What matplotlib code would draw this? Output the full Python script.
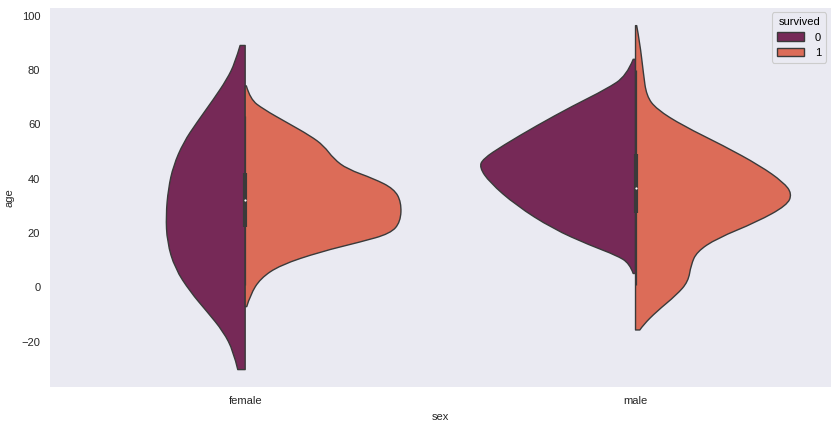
import matplotlib
matplotlib.use("Agg")
import matplotlib.pyplot as plt
from matplotlib.patches import Patch, PathPatch
from matplotlib.path import Path

plt.rcParams['font.family'] = ['Liberation Sans', 'DejaVu Sans']

# categories and hue levels
sexes = ["female", "male"]
survived = ["0", "1"]
colors = ["#762957", "#dc6c58"]

# half-violin outlines: age values and half widths (x units)
f0_age = [89.1, 82.7, 76.6, 69.3, 60.7, 53.4, 44.8, 36.3, 26.5, 16.7, 7.0, -1.6, -8.9, -16.3, -23.6, -30.3]
f0_w = [0.013, 0.026, 0.047, 0.081, 0.124, 0.158, 0.184, 0.197, 0.203, 0.200, 0.180, 0.141, 0.098, 0.056, 0.030, 0.019]

f1_age = [74.2, 69.3, 65.6, 60.7, 55.8, 52.2, 47.3, 43.6, 40.0, 36.3, 31.4, 24.1, 19.8, 16.7, 13.1, 8.2, 3.3, -2.8, -7.1]
f1_w = [0.003, 0.013, 0.047, 0.107, 0.167, 0.201, 0.227, 0.261, 0.330, 0.381, 0.400, 0.398, 0.372, 0.295, 0.193, 0.090, 0.039, 0.013, 0.004]

m0_age = [84.0, 77.9, 73.0, 66.9, 59.5, 52.2, 47.3, 44.2, 38.7, 30.2, 21.6, 15.5, 11.8, 8.8, 5.1]
m0_w = [0.006, 0.023, 0.075, 0.160, 0.254, 0.340, 0.391, 0.400, 0.374, 0.306, 0.212, 0.117, 0.049, 0.015, 0.006]

m1_age = [96.4, 90.1, 79.1, 70.5, 65.6, 59.5, 52.2, 44.8, 38.7, 34.5, 30.2, 24.1, 18.0, 13.1, 8.2, 2.1, -2.8, -8.9, -13.8, -15.7]
m1_w = [0.003, 0.011, 0.020, 0.028, 0.054, 0.122, 0.225, 0.319, 0.379, 0.401, 0.388, 0.311, 0.208, 0.157, 0.142, 0.135, 0.105, 0.054, 0.020, 0.011]

# box stats: whisker low, q1, median, q3, whisker high
female_box = [1.0, 22.2, 32.3, 42.0, 63.0]
male_box = [0.8, 27.5, 36.7, 49.1, 80.0]

edge = "#3a3a3a"

fig = plt.figure(figsize=(8.37, 4.28), dpi=100)
ax = fig.add_axes([50 / 837, 41.3 / 428, 780.7 / 837, 378.7 / 428])
ax.set_facecolor("#eaeaf2")
for s in ax.spines.values():
    s.set_visible(False)


def half(center, ages, widths, side, color):
    pts = [(center + side * w, a) for w, a in zip(widths, ages)]
    verts = [(center, ages[0]), pts[0]]
    codes = [Path.MOVETO, Path.LINETO]
    # smooth outline: read points act as quadratic control points
    for i in range(1, len(pts) - 1):
        nxt = pts[i + 1] if i < len(pts) - 2 else None
        end = pts[-1] if nxt is None else ((pts[i][0] + nxt[0]) / 2, (pts[i][1] + nxt[1]) / 2)
        verts += [pts[i], end]
        codes += [Path.CURVE3, Path.CURVE3]
    verts += [(center, ages[-1]), (center, ages[0])]
    codes += [Path.LINETO, Path.CLOSEPOLY]
    ax.add_patch(PathPatch(Path(verts, codes), facecolor=color, edgecolor=edge,
                           linewidth=1.0, joinstyle="round"))


half(0, f0_age, f0_w, -1, colors[0])
half(0, f1_age, f1_w, 1, colors[1])
half(1, m0_age, m0_w, -1, colors[0])
half(1, m1_age, m1_w, 1, colors[1])

for i, b in enumerate([female_box, male_box]):
    ax.plot([i, i], [b[0], b[4]], color=edge, linewidth=0.9, solid_capstyle="butt")
    ax.plot([i, i], [b[1], b[3]], color=edge, linewidth=3.0, solid_capstyle="butt")
    ax.scatter([i], [b[2]], s=2.5, color="white", linewidths=0, zorder=5)

ax.set_xlim(-0.5, 1.5)
ax.set_ylim(-36.6, 102.9)
ax.set_xticks([0, 1])
ax.set_xticklabels(sexes)
ax.set_yticks([-20, 0, 20, 40, 60, 80, 100])
ax.tick_params(length=0, labelsize=8, colors="#262626", pad=7)
ax.set_xlabel("sex", fontsize=8, color="#262626", labelpad=4)
ax.set_ylabel("age", fontsize=8, color="#262626", labelpad=5)

handles = [Patch(facecolor=c, edgecolor=edge, linewidth=1) for c in colors]
leg = ax.legend(handles, survived, title="survived", loc="upper right", fontsize=8,
                title_fontsize=8, facecolor="#eaeaf2", edgecolor="#cccccc", framealpha=1,
                handlelength=2.4, handleheight=0.8, handletextpad=1.0, borderpad=0.45,
                labelspacing=0.45, borderaxespad=0.4)
leg.get_frame().set_linewidth(0.8)

fig.savefig("out.png", dpi=100)
